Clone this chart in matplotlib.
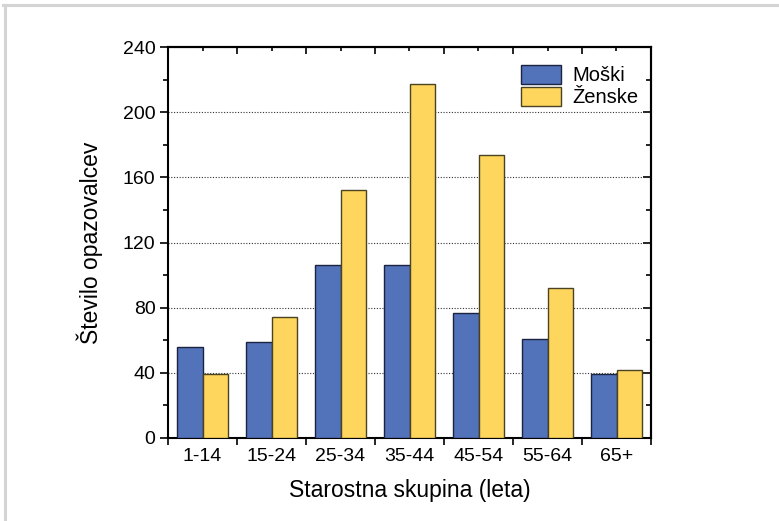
# bar chart of observers by age group and sex
import numpy as np
import matplotlib.pyplot as plt
from matplotlib.lines import Line2D
from matplotlib.ticker import MultipleLocator

plt.rcParams['font.family'] = ['Liberation Sans', 'DejaVu Sans']

skupine = ['1-14', '15-24', '25-34', '35-44', '45-54', '55-64', '65+']
moski = [56, 59, 106, 106, 77, 61, 39]
zenske = [39, 74, 152, 217, 174, 92, 42]

W, H = 779, 521
fig = plt.figure(figsize=(W / 100, H / 100), dpi=100)
ax = fig.add_axes([168 / W, (H - 438) / H, 483 / W, 391 / H])

x = np.arange(len(skupine))
w = 0.375
ax.bar(x - w / 2, moski, w, color='#5272BA', edgecolor='#1c2340', linewidth=1.0,
       label='Moški', zorder=3)
ax.bar(x + w / 2, zenske, w, color='#FED65E', edgecolor='#4a4220', linewidth=1.0,
       label='Ženske', zorder=3)

ax.set_xlim(-0.5, len(skupine) - 0.5)
ax.set_ylim(0, 240)
ax.yaxis.set_major_locator(MultipleLocator(40))
ax.yaxis.set_minor_locator(MultipleLocator(20))
ax.set_xticks(x)
ax.set_xticklabels(skupine, fontsize=14)
ax.tick_params(axis='x', length=0, pad=7)
ax.tick_params(axis='y', which='major', labelsize=14, length=6, width=1.2,
               direction='out', pad=3)
ax.tick_params(axis='y', which='minor', length=3.5, width=1.2, direction='out')

# boundaries between groups: outward ticks at the bottom, inward at the top
ax.set_xticks(np.arange(-0.5, len(skupine)), minor=True)
ax.tick_params(axis='x', which='minor', length=5, width=1.2, direction='out', bottom=True)

sec = ax.secondary_xaxis('top')
sec.set_xticks(np.arange(-0.5, len(skupine)))
sec.set_xticks(x, minor=True)
sec.tick_params(which='major', direction='in', length=5, width=1.2, labeltop=False)
sec.tick_params(which='minor', direction='in', length=3, width=1.2)
sec.spines['top'].set_linewidth(1.5)

secy = ax.secondary_yaxis('right')
secy.yaxis.set_major_locator(MultipleLocator(40))
secy.yaxis.set_minor_locator(MultipleLocator(20))
secy.tick_params(which='major', direction='in', length=6, width=1.2, labelright=False)
secy.tick_params(which='minor', direction='in', length=3.5, width=1.2)
secy.spines['right'].set_linewidth(1.5)

for s in ax.spines.values():
    s.set_linewidth(1.5)

ax.grid(axis='y', which='major', linestyle=(0, (1, 1.5)), color='#333333', linewidth=0.8, zorder=0)

ax.set_xlabel('Starostna skupina (leta)', fontsize=16.5, labelpad=10)
ax.set_ylabel('Število opazovalcev', fontsize=16.5, labelpad=14)

ax.legend(loc='upper right', frameon=False, fontsize=14.5, handlelength=2.0,
          handleheight=1.05, handletextpad=0.55, labelspacing=0.1,
          borderaxespad=0, bbox_to_anchor=(0.99, 0.975))

# light frame along the top and left edge
fig.add_artist(Line2D([4.5 / W, 4.5 / W], [0, 1 - 4.5 / H], transform=fig.transFigure,
                      color='#d4d4d4', linewidth=2.2))
fig.add_artist(Line2D([3 / W, 1], [1 - 4.5 / H, 1 - 4.5 / H], transform=fig.transFigure,
                      color='#d4d4d4', linewidth=2.2))

fig.savefig('out.png', dpi=100)
